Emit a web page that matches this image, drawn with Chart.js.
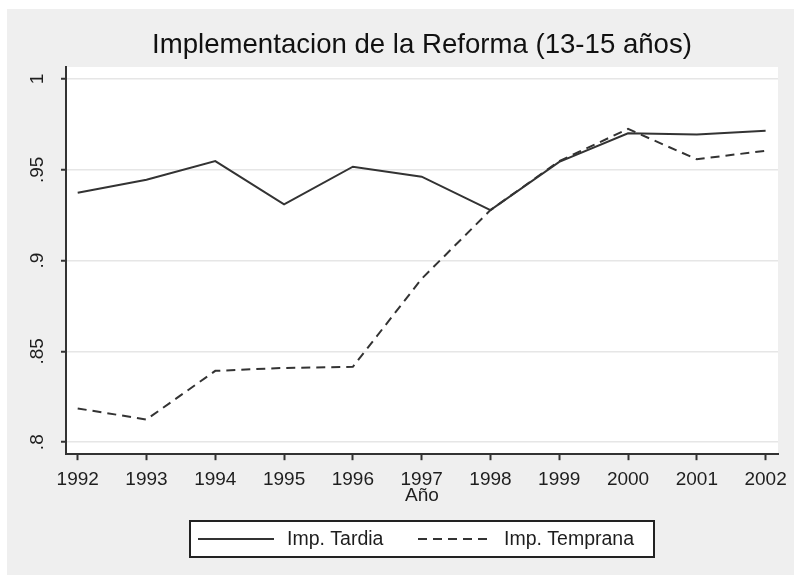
<!DOCTYPE html>
<html>
<head>
<meta charset="utf-8">
<script src="https://cdn.jsdelivr.net/npm/chart.js@4/dist/chart.umd.min.js"></script>
<style>
  html, body { margin: 0; padding: 0; background: #ffffff; }
  #c { display: block; }
</style>
</head>
<body>
<canvas id="c" width="794" height="575"></canvas>
<script>
// ---- data ----
const chartTitle = 'Implementacion de la Reforma (13-15 años)';
const xAxisTitle = 'Año';
const years = [1992, 1993, 1994, 1995, 1996, 1997, 1998, 1999, 2000, 2001, 2002];
const xTickLabels = ['1992', '1993', '1994', '1995', '1996', '1997', '1998', '1999', '2000', '2001', '2002'];
const yTicks = [0.8, 0.85, 0.9, 0.95, 1];
const yTickLabels = ['.8', '.85', '.9', '.95', '1'];
const seriesNames = ['Imp. Tardia', 'Imp. Temprana'];
const tardia   = [0.9374, 0.9445, 0.9548, 0.9310, 0.9517, 0.9462, 0.9278, 0.9544, 0.9701, 0.9695, 0.9715];
const temprana = [0.8186, 0.8125, 0.8393, 0.8409, 0.8415, 0.8900, 0.9278, 0.9548, 0.9725, 0.9558, 0.9605];

const FONT = "'Liberation Sans', Arial, Helvetica, sans-serif";
const TXT = '#1e1e1e';
const LINE = '#333333';

const toPoints = (xs, ys) => xs.map((x, i) => ({ x: x, y: ys[i] }));

const backgroundPlugin = {
  id: 'bg',
  beforeDraw(chart) {
    const ctx = chart.ctx, a = chart.chartArea;
    ctx.save();
    ctx.fillStyle = '#ffffff';
    ctx.fillRect(0, 0, chart.width, chart.height);
    ctx.fillStyle = '#efefef';
    ctx.fillRect(7, 9, chart.width - 7, chart.height - 9);
    ctx.fillStyle = '#ffffff';
    ctx.fillRect(a.left, a.top, a.right - a.left, a.bottom - a.top);
    ctx.restore();
  }
};

const legendBoxPlugin = {
  id: 'legendBox',
  afterDraw(chart) {
    const ctx = chart.ctx, a = chart.chartArea;
    const cx = (a.left + a.right) / 2;
    const bw = 464, bh = 36;
    const bx = cx - bw / 2, by = 521;
    const midY = by + bh / 2;
    ctx.save();
    ctx.fillStyle = '#ffffff';
    ctx.fillRect(bx, by, bw, bh);
    ctx.strokeStyle = '#222222';
    ctx.lineWidth = 2;
    ctx.setLineDash([]);
    ctx.strokeRect(bx, by, bw, bh);
    const items = [
      { x0: bx + 8, x1: bx + 84, tx: bx + 97 },
      { x0: bx + 228, x1: bx + 301, tx: bx + 314 }
    ];
    chart.data.datasets.forEach((ds, i) => {
      const it = items[i];
      ctx.strokeStyle = ds.borderColor;
      ctx.lineWidth = ds.borderWidth;
      ctx.setLineDash(ds.borderDash || []);
      ctx.beginPath();
      ctx.moveTo(it.x0, midY);
      ctx.lineTo(it.x1, midY);
      ctx.stroke();
      ctx.setLineDash([]);
      ctx.fillStyle = TXT;
      ctx.font = '19.5px ' + FONT;
      ctx.textBaseline = 'middle';
      ctx.textAlign = 'left';
      ctx.fillText(ds.label, it.tx, midY + 1);
    });
    ctx.restore();
  }
};

new Chart(document.getElementById('c'), {
  type: 'line',
  data: {
    datasets: [
      {
        label: seriesNames[0],
        data: toPoints(years, tardia),
        borderColor: LINE,
        borderWidth: 2,
        pointRadius: 0,
        tension: 0,
        fill: false
      },
      {
        label: seriesNames[1],
        data: toPoints(years, temprana),
        borderColor: LINE,
        borderWidth: 2,
        borderDash: [9, 6],
        pointRadius: 0,
        tension: 0,
        fill: false
      }
    ]
  },
  options: {
    responsive: false,
    animation: false,
    devicePixelRatio: 1,
    layout: { padding: { left: 0, right: 16, top: 0, bottom: 68 } },
    plugins: {
      legend: { display: false },
      tooltip: { enabled: false },
      title: {
        display: true,
        text: chartTitle,
        fullSize: false,
        color: '#111111',
        font: { family: FONT, size: 27.6, weight: 'normal' },
        padding: { top: 29.2, bottom: 4.7 }
      }
    },
    scales: {
      x: {
        type: 'linear',
        min: 1991.83,
        max: 2002.18,
        afterBuildTicks(scale) { scale.ticks = years.map(v => ({ value: v })); },
        afterFit(scale) { scale.height = 52.8; scale.paddingLeft = 0; scale.paddingRight = 0; },
        ticks: {
          autoSkip: false,
          maxRotation: 0,
          minRotation: 0,
          padding: 8,
          color: TXT,
          font: { family: FONT, size: 19 },
          callback: (v, i) => xTickLabels[i]
        },
        grid: {
          drawOnChartArea: false,
          drawTicks: true,
          tickLength: 6,
          tickColor: LINE,
          tickWidth: 2
        },
        border: { display: true, color: LINE, width: 2 },
        title: {
          display: true,
          text: xAxisTitle,
          color: TXT,
          font: { family: FONT, size: 19 },
          padding: { top: 0, bottom: 0 }
        }
      },
      y: {
        type: 'linear',
        min: 0.7934,
        max: 1.0066,
        afterBuildTicks(scale) { scale.ticks = yTicks.map(v => ({ value: v })); },
        afterFit(scale) { scale.width = 66; scale.paddingTop = 0; scale.paddingBottom = 0; },
        ticks: {
          autoSkip: false,
          minRotation: 90,
          maxRotation: 90,
          crossAlign: 'center',
          padding: 10,
          color: TXT,
          font: { family: FONT, size: 19 },
          callback: (v, i) => yTickLabels[i]
        },
        grid: {
          color: '#e6e6e6',
          lineWidth: 1.5,
          drawTicks: true,
          tickLength: 5,
          tickColor: LINE,
          tickWidth: 2
        },
        border: { display: true, color: LINE, width: 2 }
      }
    }
  },
  plugins: [backgroundPlugin, legendBoxPlugin]
});
</script>
</body>
</html>
